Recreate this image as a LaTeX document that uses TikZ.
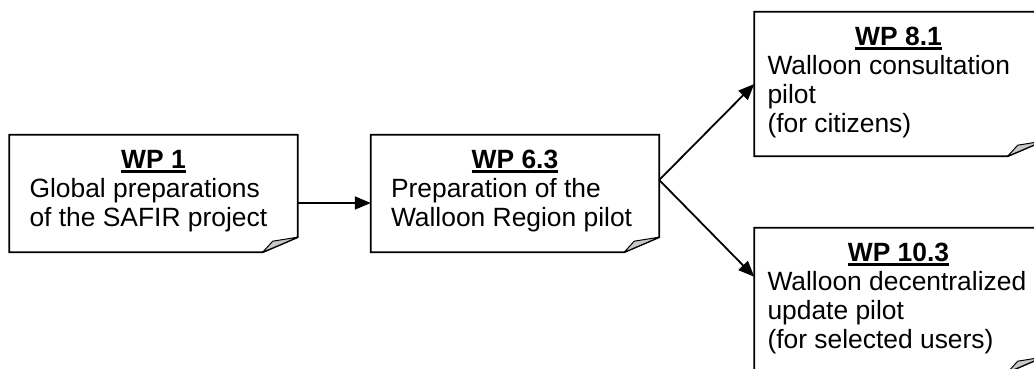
\documentclass[tikz,border=0pt]{standalone}
\usepackage{fontspec}
\setmainfont{Liberation Sans}
\usetikzlibrary{arrows.meta}
\tikzset{every node/.style={font=\fontsize{26.4}{29}\selectfont}}
\newcommand{\wptitle}[1]{\setbox0\hbox{\bfseries #1}\rlap{\rule[-4.5pt]{\wd0}{3pt}}\box0}

\begin{document}
\begin{tikzpicture}[x=1pt,y=1pt,
  wpbox/.style={rectangle, inner sep=0pt, minimum width=288, minimum height=117},
  wptext/.style={inner sep=0pt, anchor=north west, align=left},
  noteline/.style={line width=1.8pt, fill=white},
  flap/.style={fill=black!22, draw=black, line width=1pt, line join=round},
  wparrow/.style={line width=1.8pt, -{Triangle[length=16pt,width=13pt]}}
% the fold is 35 wide and 15 high at the lower right corner
]
\clip (0,0) rectangle (1034,369);

\node[wpbox] (wp1) at (153.5,175.5) {};
\node[wpbox] (wp63) at (515,175.5) {};
\node[wpbox, minimum height=144] (wp81) at (898.5,285) {};
\node[wpbox, minimum height=144] (wp103) at (898.5,69) {};

\foreach \n in {wp1,wp63,wp81,wp103} {
  \draw[noteline] (\n.north west) -- (\n.north east) -- ([yshift=15]\n.south east)
    -- ([xshift=-35]\n.south east) -- (\n.south west) -- cycle;
  \draw[flap] ([xshift=-35]\n.south east) -- ([xshift=-25,yshift=11]\n.south east)
    -- ([yshift=15]\n.south east) .. controls ([xshift=-16,yshift=8]\n.south east) .. cycle;
}

\node[anchor=base] (wp1t) at ([yshift=-34]wp1.north) {\wptitle{WP 1}};
\node[wptext] (wp1b) at ([xshift=20,yshift=-43.5]wp1.north west)
  {Global preparations\\of the SAFIR project};

\node[anchor=base] (wp63t) at ([yshift=-34]wp63.north) {\wptitle{WP 6.3}};
\node[wptext] (wp63b) at ([xshift=20,yshift=-43.5]wp63.north west)
  {Preparation of the\\Walloon Region pilot};

\node[anchor=base] (wp81t) at ([yshift=-34]wp81.north) {\wptitle{WP 8.1}};
\node[wptext] (wp81b) at ([xshift=13,yshift=-43.5]wp81.north west)
  {Walloon consultation\\pilot\\(for citizens)};

\node[anchor=base] (wp103t) at ([yshift=-34]wp103.north) {\wptitle{WP 10.3}};
\node[wptext] (wp103b) at ([xshift=13,yshift=-43.5]wp103.north west)
  {Walloon decentralized\\update pilot\\(for selected users)};

\coordinate (fork) at ([yshift=13.5]wp63.east);
\draw[wparrow] ([yshift=-9.5]wp1.east) -- ([yshift=-9.5]wp63.west);
\draw[wparrow] (fork) -- (wp81.west);
\draw[wparrow] (fork) -- ([yshift=-49]wp103.north west);
\end{tikzpicture}
\end{document}
